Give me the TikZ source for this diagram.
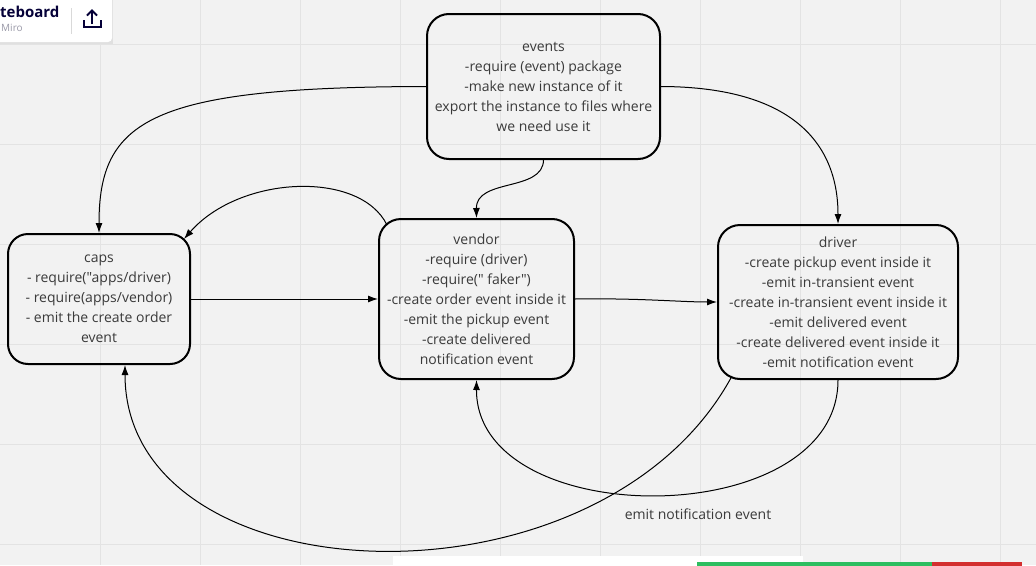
\documentclass[tikz,border=0pt]{standalone}
\usepackage{fontspec}
\setmainfont{Open Sans}[Ligatures=TeXOff]
\usetikzlibrary{arrows.meta}
\definecolor{boardbg}{HTML}{F2F2F2}
\definecolor{gridline}{HTML}{E3E3E3}
\definecolor{inktext}{HTML}{3A3A3A}
\definecolor{miroink}{HTML}{050038}
\definecolor{mirogray}{HTML}{9A99A8}
\definecolor{okgreen}{HTML}{2DBE60}
\definecolor{badred}{HTML}{D32F2F}
\begin{document}
\begin{tikzpicture}[x=1pt,y=-1pt,
  card/.style={draw=black, line width=2pt, rounded corners=22pt,
    align=center, text=inktext, inner sep=0pt,
    font=\fontsize{14}{20}\selectfont},
  link/.style={line width=1pt, -{Latex[length=10pt,width=7pt]}},
  note/.style={text=inktext, font=\fontsize{14}{20}\selectfont, inner sep=0pt}]
\useasboundingbox (0,0) rectangle (1036,565);
\fill[boardbg] (0,0) rectangle (1036,565);
% board grid
\foreach \gx in {100,200,...,1000} \draw[gridline, line width=1pt] (\gx,0) -- (\gx,565);
\foreach \gy in {44,144,...,544} \draw[gridline, line width=1pt] (0,\gy) -- (1036,\gy);

% the four modules
\node[card, minimum width=233pt, minimum height=145pt] (events) at (543.5,86.5)
  {events\\-require (event) package\\-make new instance of it\\export the instance to files where\\we need use it};
\node[card, minimum width=182pt, minimum height=130pt, rounded corners=20pt] (caps) at (99,299)
  {caps\\- require("apps/driver)\\- require(apps/vendor)\\- emit the create order\\event};
\node[card, minimum width=195pt, minimum height=160pt] (vendor) at (476.5,299)
  {vendor\\-require (driver)\\-require(" faker")\\-create order event inside it\\-emit the pickup event\\-create delivered\\notification event};
\node[card, minimum width=240pt, minimum height=154pt] (driver) at (838,302)
  {driver\\-create pickup event inside it\\-emit in-transient event\\-create in-transient event inside it\\-emit delivered event\\-create delivered event inside it\\-emit notification event};

% free ends on rounded corners and off-centre borders
\coordinate (vendorCorner) at ([shift={(9,7)}]vendor.north west);
\coordinate (capsCorner) at ([shift={(-7,6)}]caps.north east);
\coordinate (driverCorner) at ([shift={(15,-4)}]driver.south west);
\coordinate (capsFoot) at ([xshift=26pt]caps.south);

% connectors
\draw[link] (events.west) .. controls (150,87) and (99,120) .. (caps.north);
\draw[link] (events.south) .. controls (543,192) and (476,178) .. (vendor.north);
\draw[link] (events.east) .. controls (800,87) and (838,150) .. (driver.north);
\draw[link] (vendorCorner) .. controls (360,170) and (240,175) .. (capsCorner);
\draw[link] (caps.east) -- (vendor.west);
\draw[link] (vendor.east) .. controls (640,298) and (680,302) .. (driver.west);
\draw[link] (driver.south) .. controls (838,533) and (476,533) .. (vendor.south);
\draw[link] (driverCorner) .. controls (600,620) and (125,600) .. (capsFoot);
\node[note] (notify) at (698,514) {emit notification event};

% board toolbar
\fill[black!12] (-10,-10) rectangle (113,44);
\fill[white, rounded corners=4pt] (-10,-10) rectangle (112,42);
\node[anchor=base west, inner sep=0pt, text=miroink, font=\fontsize{15}{15}\bfseries\selectfont] (boardname) at (0,17) {teboard};
\node[anchor=base west, inner sep=0pt, text=mirogray, font=\fontsize{10}{10}\selectfont] (boardsub) at (1,31) {Miro};
\draw[black!15, line width=1pt] (71,8) -- (71,34);
\draw[miroink, line width=2pt] (92,24) -- (92,11);
\draw[miroink, line width=2pt, line join=miter] (87,15.5) -- (92,10.5) -- (97,15.5);
\draw[miroink, line width=2pt] (83.5,20) -- (83.5,27) -- (100.5,27) -- (100.5,20);

% bottom status strip
\fill[white] (393,556) rectangle (803,566);
\fill[okgreen] (697,562) rectangle (932,566);
\fill[badred] (932,562) rectangle (1022,566);
\end{tikzpicture}
\end{document}
